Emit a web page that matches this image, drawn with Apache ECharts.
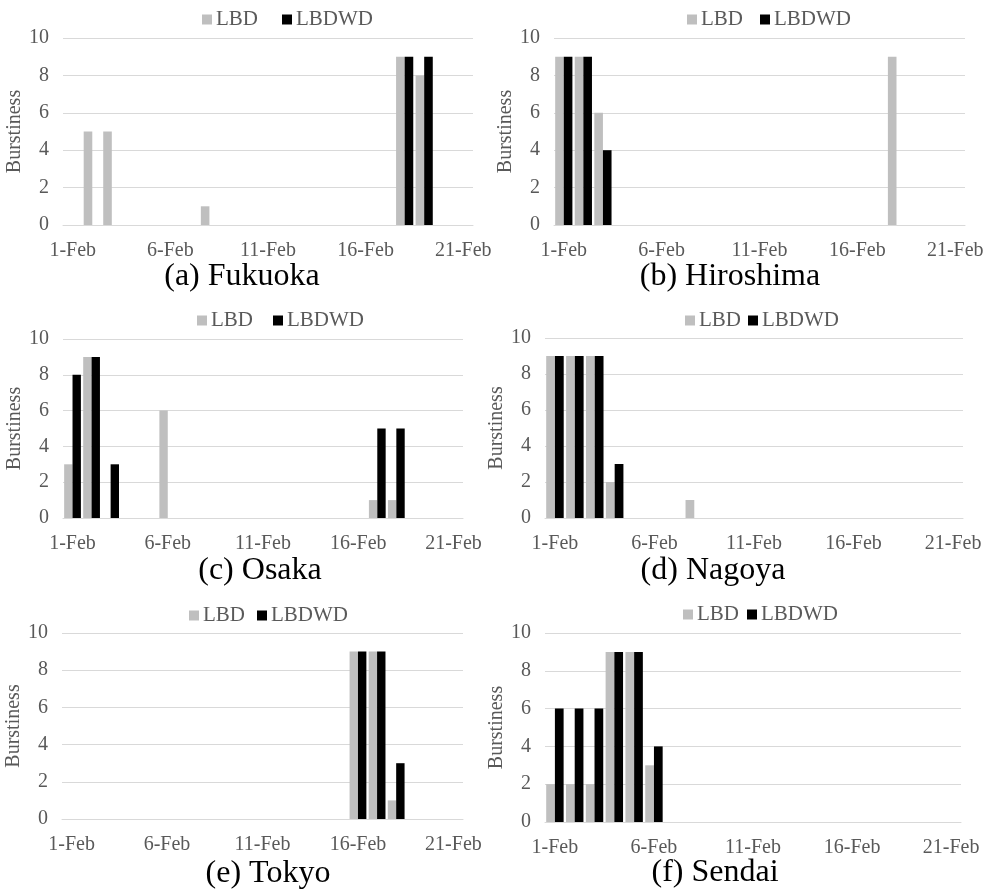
<!DOCTYPE html>
<html>
<head>
<meta charset="utf-8">
<title>Burstiness</title>
<script src="https://cdn.jsdelivr.net/npm/echarts@6/dist/echarts.min.js"></script>
<style>
  html, body { margin: 0; padding: 0; background: #fff; }
  #main { width: 990px; height: 892px; }
</style>
</head>
<body>
<div id="main"></div>
<script>
var days = ['1-Feb', '2-Feb', '3-Feb', '4-Feb', '5-Feb', '6-Feb', '7-Feb', '8-Feb', '9-Feb', '10-Feb',
  '11-Feb', '12-Feb', '13-Feb', '14-Feb', '15-Feb', '16-Feb', '17-Feb', '18-Feb', '19-Feb', '20-Feb', '21-Feb']

var fukuokaLBD = [0, 5, 5, 0, 0, 0, 0, 1, 0, 0, 0, 0, 0, 0, 0, 0, 0, 9, 8, 0, 0]
var fukuokaLBDWD = [0, 0, 0, 0, 0, 0, 0, 0, 0, 0, 0, 0, 0, 0, 0, 0, 0, 9, 9, 0, 0]
var hiroshimaLBD = [9, 9, 6, 0, 0, 0, 0, 0, 0, 0, 0, 0, 0, 0, 0, 0, 0, 9, 0, 0, 0]
var hiroshimaLBDWD = [9, 9, 4, 0, 0, 0, 0, 0, 0, 0, 0, 0, 0, 0, 0, 0, 0, 0, 0, 0, 0]
var osakaLBD = [3, 9, 0, 0, 0, 6, 0, 0, 0, 0, 0, 0, 0, 0, 0, 0, 1, 1, 0, 0, 0]
var osakaLBDWD = [8, 9, 3, 0, 0, 0, 0, 0, 0, 0, 0, 0, 0, 0, 0, 0, 5, 5, 0, 0, 0]
var nagoyaLBD = [9, 9, 9, 2, 0, 0, 0, 1, 0, 0, 0, 0, 0, 0, 0, 0, 0, 0, 0, 0, 0]
var nagoyaLBDWD = [9, 9, 9, 3, 0, 0, 0, 0, 0, 0, 0, 0, 0, 0, 0, 0, 0, 0, 0, 0, 0]
var tokyoLBD = [0, 0, 0, 0, 0, 0, 0, 0, 0, 0, 0, 0, 0, 0, 0, 9, 9, 1, 0, 0, 0]
var tokyoLBDWD = [0, 0, 0, 0, 0, 0, 0, 0, 0, 0, 0, 0, 0, 0, 0, 9, 9, 3, 0, 0, 0]
var sendaiLBD = [2, 2, 2, 9, 9, 3, 0, 0, 0, 0, 0, 0, 0, 0, 0, 0, 0, 0, 0, 0, 0]
var sendaiLBDWD = [6, 6, 6, 9, 9, 4, 0, 0, 0, 0, 0, 0, 0, 0, 0, 0, 0, 0, 0, 0, 0]

var captions = ['(a) Fukuoka', '(b) Hiroshima', '(c) Osaka', '(d) Nagoya', '(e) Tokyo', '(f) Sendai']
var panelData = [
  [fukuokaLBD, fukuokaLBDWD],
  [hiroshimaLBD, hiroshimaLBDWD],
  [osakaLBD, osakaLBDWD],
  [nagoyaLBD, nagoyaLBDWD],
  [tokyoLBD, tokyoLBDWD],
  [sendaiLBD, sendaiLBDWD]
]

// panel layout
var panels = [
  { grid: [63, 38, 410, 187], legend: [197, 4, 24], cap: [242, 277] },
  { grid: [554, 38, 411, 187], legend: [682, 4, 17], cap: [730, 277] },
  { grid: [63, 339, 400, 179], legend: [192, 305, 20], cap: [260, 571] },
  { grid: [545, 338, 418, 180], legend: [680, 305, 7], cap: [713, 571] },
  { grid: [62, 633, 401, 186], legend: [184, 600, 12], cap: [268, 874] },
  { grid: [545, 633, 416, 189], legend: [678, 599, 8], cap: [715, 873] }
]

var font = 'Liberation Serif'
var gray = '#595959'
var lineColor = '#d9d9d9'

var grids = []
var xAxes = []
var yAxes = []
var legends = []
var series = []
var graphics = []

panels.forEach(function (p, i) {
  grids.push({ left: p.grid[0], top: p.grid[1], width: p.grid[2], height: p.grid[3] })
  // minor ticks (inside) + labels
  xAxes.push({
    type: 'category',
    gridIndex: i,
    data: days,
    axisLine: { lineStyle: { color: lineColor, width: 1 } },
    axisTick: { interval: 0, inside: true, length: 4, lineStyle: { color: lineColor } },
    axisLabel: { interval: 4, color: gray, fontSize: 20, fontFamily: font, margin: 16 },
    splitLine: { show: false }
  })
  // major ticks (outside)
  xAxes.push({
    type: 'category',
    gridIndex: i,
    data: days,
    axisLine: { show: false },
    axisTick: { interval: 4, inside: false, length: 5, lineStyle: { color: lineColor } },
    axisLabel: { show: false },
    splitLine: { show: false }
  })
  yAxes.push({
    type: 'value',
    gridIndex: i,
    min: 0,
    max: 10,
    interval: 2,
    name: 'Burstiness',
    nameLocation: 'middle',
    nameRotate: 90,
    nameGap: 31,
    nameTextStyle: { color: gray, fontSize: 20, fontFamily: font },
    axisLine: { show: false },
    axisTick: { show: false },
    axisLabel: { color: gray, fontSize: 20, fontFamily: font, margin: 14 },
    splitLine: { lineStyle: { color: lineColor, width: 1 } }
  })
  legends.push({
    left: p.legend[0],
    top: p.legend[1],
    itemGap: p.legend[2],
    itemWidth: 10,
    itemHeight: 10,
    icon: 'rect',
    data: ['LBD', 'LBDWD'],
    textStyle: { color: gray, fontSize: 21, fontFamily: font, padding: [0, 0, 0, -1] }
  })
  series.push({
    name: 'LBD',
    type: 'bar',
    xAxisIndex: i * 2,
    yAxisIndex: i,
    data: panelData[i][0],
    itemStyle: { color: '#bfbfbf' },
    barGap: '0%',
    barCategoryGap: '12%',
    animation: false
  })
  series.push({
    name: 'LBDWD',
    type: 'bar',
    xAxisIndex: i * 2,
    yAxisIndex: i,
    data: panelData[i][1],
    itemStyle: { color: '#000000' },
    barGap: '0%',
    barCategoryGap: '12%',
    animation: false
  })
  graphics.push({
    type: 'text',
    x: p.cap[0],
    y: p.cap[1],
    style: {
      text: captions[i],
      font: '32px "Liberation Serif"',
      fill: '#000',
      textAlign: 'center',
      textVerticalAlign: 'middle'
    }
  })
})

var mychart = echarts.init(document.getElementById('main'))
mychart.setOption({
  animation: false,
  grid: grids,
  xAxis: xAxes,
  yAxis: yAxes,
  legend: legends,
  series: series,
  graphic: graphics
})
</script>
</body>
</html>
